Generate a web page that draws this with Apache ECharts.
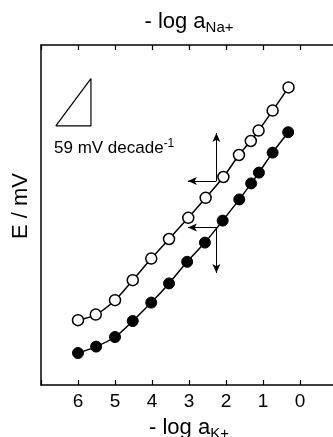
<!DOCTYPE html>
<html>
<head>
<meta charset="utf-8">
<script src="https://cdn.jsdelivr.net/npm/echarts@6/dist/echarts.min.js"></script>
<style>html,body{margin:0;padding:0;background:#fff}#c{width:333px;height:437px}</style>
</head>
<body>
<div id="c"></div>
<script>
// -log a (K+ for filled, Na+ for open), E in mV (relative)
const openX = [6.0, 5.52, 5.0, 4.52, 4.02, 3.54, 3.02, 2.55, 2.07, 1.65, 1.33, 1.12, 0.74, 0.31];
const openE = [81, 88, 106, 131, 158, 182.5, 209, 234, 260, 287.5, 305, 318, 343, 372];
const filledX = [6.0, 5.51, 5.0, 4.52, 4.02, 3.54, 3.05, 2.57, 2.09, 1.64, 1.32, 1.11, 0.74, 0.32];
const filledE = [40, 48, 60, 80, 103, 127, 154, 178, 205.5, 232, 252, 265.5, 290.5, 316];
const xTickLabels = ['6', '5', '4', '3', '2', '1', '0'];
const slopeTriangle = [[6.6, 324], [5.65, 324], [5.65, 383], [6.6, 324]];

const FONT = 'Liberation Sans, Arial, Helvetica, sans-serif';
const zip = (xs, ys) => xs.map((x, i) => [x, ys[i]]);

const chart = echarts.init(document.getElementById('c'), null, {renderer: 'canvas'});
const xCommon = {
  type: 'value', min: -1, max: 7, interval: 1, inverse: true,
  axisLine: {show: true, onZero: false, lineStyle: {color: '#000', width: 1.5}},
  axisTick: {show: true, inside: true, length: 5, lineStyle: {color: '#000', width: 1.2}},
  splitLine: {show: false},
  nameLocation: 'middle'
};
const arrowStyle = {color: '#000', width: 1, type: 'solid'};
const subRich = {s: {fontSize: 15, fontFamily: FONT, color: '#000', padding: [11, 0, 0, 0]}};
chart.setOption({
  animation: false,
  backgroundColor: '#fff',
  grid: {left: 41, top: 45, bottom: 52, right: -4, containLabel: false, outerBoundsMode: 'none'},
  xAxis: [
    Object.assign({}, xCommon, {
      position: 'bottom',
      axisLabel: {show: true, color: '#000', fontSize: 19, fontFamily: FONT, margin: 7,
        formatter: v => xTickLabels.includes(String(v)) ? String(v) : ''},
      name: '- log a{s|K+}', nameGap: 30,
      nameTextStyle: {color: '#000', fontSize: 22, fontFamily: FONT, rich: subRich}
    }),
    Object.assign({}, xCommon, {
      position: 'top',
      axisLabel: {show: false},
      name: '- log a{s|Na+}', nameGap: 10,
      nameTextStyle: {color: '#000', fontSize: 22, fontFamily: FONT, rich: subRich}
    })
  ],
  yAxis: {
    type: 'value', min: 0, max: 425,
    axisLine: {show: true, onZero: false, lineStyle: {color: '#000', width: 1.5}},
    axisTick: {show: false}, axisLabel: {show: false}, splitLine: {show: false},
    name: 'E / mV', nameLocation: 'middle', nameGap: 9, nameRotate: 90,
    nameTextStyle: {color: '#000', fontSize: 22, fontFamily: FONT, padding: [0, 0, 0, 18]}
  },
  graphic: [{
    type: 'text', left: 54, top: 138,
    style: {text: '59 mV decade{sup|-1}', fill: '#000', fontSize: 17, fontFamily: FONT,
      rich: {sup: {fontSize: 12, fontFamily: FONT, fill: '#000', padding: [0, 0, 9, 0]}}}
  }],
  series: [
    {
      type: 'line', xAxisIndex: 0, data: slopeTriangle, symbol: 'none',
      lineStyle: {color: '#000', width: 1.2}, silent: true
    },
    {
      type: 'line', xAxisIndex: 1, data: zip(openX, openE), smooth: 0.3,
      symbol: 'circle', symbolSize: 11, z: 3,
      lineStyle: {color: '#000', width: 1.5},
      itemStyle: {color: '#fff', borderColor: '#000', borderWidth: 1.5},
      markLine: {
        silent: true, symbol: ['none', 'arrow'], symbolSize: [6, 9],
        label: {show: false}, lineStyle: arrowStyle, animation: false,
        data: [
          [{coord: [2.26, 255]}, {coord: [2.26, 315]}],
          [{coord: [2.26, 255]}, {coord: [3.03, 255]}]
        ]
      }
    },
    {
      type: 'line', xAxisIndex: 0, data: zip(filledX, filledE), smooth: 0.3,
      symbol: 'circle', symbolSize: 11, z: 3,
      lineStyle: {color: '#000', width: 1.5},
      itemStyle: {color: '#000', borderColor: '#000', borderWidth: 1},
      markLine: {
        silent: true, symbol: ['none', 'arrow'], symbolSize: [6, 9],
        label: {show: false}, lineStyle: arrowStyle, animation: false,
        data: [
          [{coord: [2.26, 197]}, {coord: [3.03, 197]}],
          [{coord: [2.26, 197]}, {coord: [2.26, 140]}]
        ]
      }
    }
  ]
});
</script>
</body>
</html>
